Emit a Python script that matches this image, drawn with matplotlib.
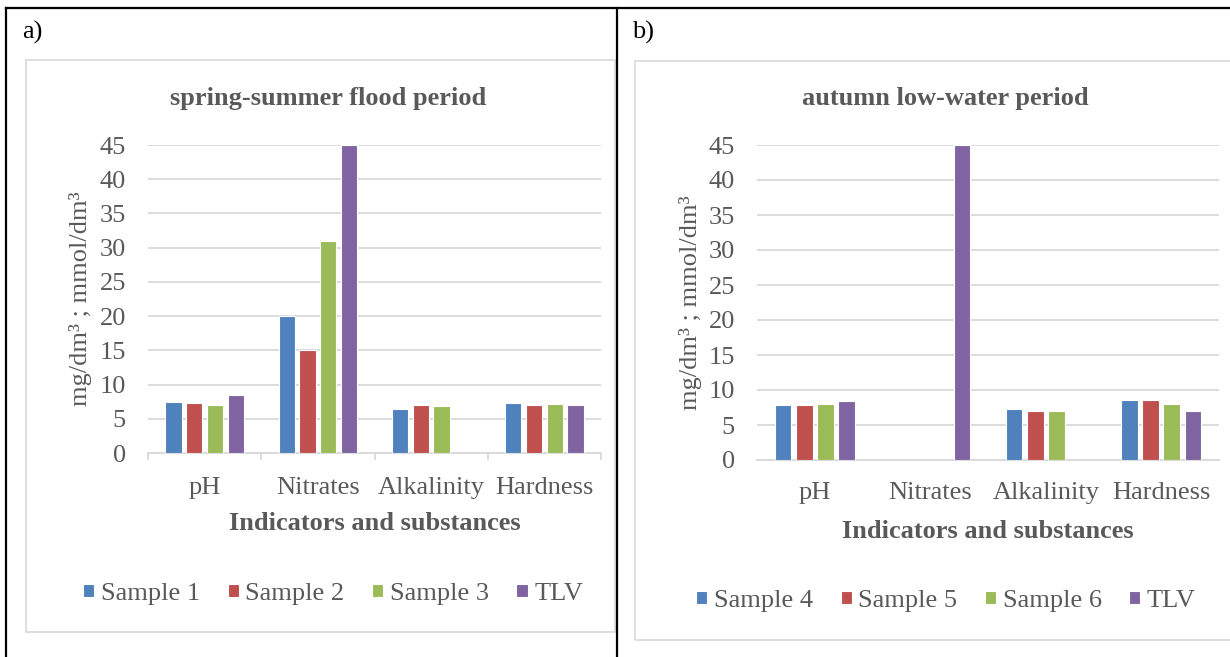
import numpy as np
import matplotlib.pyplot as plt
from matplotlib.lines import Line2D
from matplotlib.patches import Rectangle

plt.rcParams['font.family'] = ['Liberation Serif', 'DejaVu Serif']

categories = ['pH', 'Nitrates', 'Alkalinity', 'Hardness']

# a) spring-summer flood period
labels_a = ['Sample 1', 'Sample 2', 'Sample 3', 'TLV']
sample1 = [7.4, 20.0, 6.5, 7.3]
sample2 = [7.25, 15.0, 7.05, 6.95]
sample3 = [6.95, 31.0, 6.9, 7.1]
tlv_a = [8.45, 45.0, np.nan, 6.95]

# b) autumn low-water period
labels_b = ['Sample 4', 'Sample 5', 'Sample 6', 'TLV']
sample4 = [7.8, np.nan, 7.3, 8.55]
sample5 = [7.9, np.nan, 7.0, 8.55]
sample6 = [7.95, np.nan, 7.0, 7.95]
tlv_b = [8.45, 45.0, np.nan, 6.95]

colors = ['#4F81BD', '#C0504D', '#9BBB59', '#8064A2']
TXT = '#595959'
GRID = '#D9D9D9'
FS = 19

W, H = 1230, 657
fig = plt.figure(figsize=(W / 100, H / 100), dpi=100)


def fx(x):
    return x / W


def fy(y):
    return 1 - y / H


# table borders
for (x0, y0, x1, y1) in [(6, 8, 1230, 8), (6, 8, 6, 657), (617, 8, 617, 657)]:
    fig.add_artist(Line2D([fx(x0), fx(x1)], [fy(y0), fy(y1)], color='black', lw=1.6))
fig.text(fx(22), fy(32), 'a)', fontsize=FS, va='center', ha='left')
fig.text(fx(632), fy(32), 'b)', fontsize=FS, va='center', ha='left')

# chart frames
fig.add_artist(Rectangle((fx(26), fy(632)), fx(589), (632 - 60) / H, fill=False, ec=GRID, lw=1.2))
fig.add_artist(Rectangle((fx(635), fy(640)), fx(600), (640 - 61) / H, fill=False, ec=GRID, lw=1.2))


def draw(rect, series, labels, title, ticks_on, title_xy, xl_y, yl_x, leg_xy):
    ax = fig.add_axes(rect)
    x = np.arange(len(categories))
    step = 0.183
    width = 0.145
    for i, (vals, lab) in enumerate(zip(series, labels)):
        ax.bar(x + (i - 1.5) * step, vals, width, color=colors[i], edgecolor='white',
               linewidth=0.8, label=lab, zorder=3)
    ax.set_xlim(-0.5, len(categories) - 0.5)
    ax.set_ylim(0, 45)
    ax.set_yticks(np.arange(0, 46, 5))
    ax.yaxis.grid(True, color=GRID, lw=1.3, zorder=0)
    for s in ['top', 'right', 'left']:
        ax.spines[s].set_visible(False)
    ax.spines['bottom'].set_color(GRID)
    ax.spines['bottom'].set_linewidth(1.3)
    ax.set_xticks(x)
    ax.set_xticklabels(categories)
    ax.tick_params(axis='y', length=0, pad=16, labelsize=FS, labelcolor=TXT)
    ax.tick_params(axis='x', which='major', length=0, pad=17 if ticks_on else 16,
                   labelsize=FS, labelcolor=TXT)
    if ticks_on:
        ax.set_xticks(np.arange(-0.5, len(categories)), minor=True)
        ax.tick_params(axis='x', which='minor', length=5, width=1.3, color=GRID)
    cx = rect[0] + rect[2] / 2
    fig.text(title_xy[0], title_xy[1], title, fontsize=FS, fontweight='bold', color=TXT,
             ha='center', va='center')
    fig.text(cx, xl_y, 'Indicators and substances', fontsize=FS, fontweight='bold',
             color=TXT, ha='center', va='center')
    fig.text(yl_x, rect[1] + rect[3] / 2, 'mg/dm³ ; mmol/dm³', fontsize=FS,
             color=TXT, rotation=90, ha='center', va='center')
    fig.legend(*ax.get_legend_handles_labels(), loc='center', bbox_to_anchor=leg_xy,
               ncol=4, frameon=False, fontsize=FS, handlelength=0.42, handleheight=0.42,
               handletextpad=0.25, columnspacing=1.05, labelcolor=TXT)
    return ax


draw([fx(148), fy(453), fx(601 - 148), (453 - 145) / H],
     [sample1, sample2, sample3, tlv_a], labels_a, 'spring-summer flood period',
     True, (fx(328), fy(98)), fy(523), fx(81), (fx(333), fy(594)))

draw([fx(757), fy(460), fx(1219 - 757), (460 - 145) / H],
     [sample4, sample5, sample6, tlv_b], labels_b, 'autumn low-water period',
     False, (fx(945), fy(98)), fy(531), fx(691), (fx(946), fy(601)))

fig.savefig('out.png', dpi=100)
